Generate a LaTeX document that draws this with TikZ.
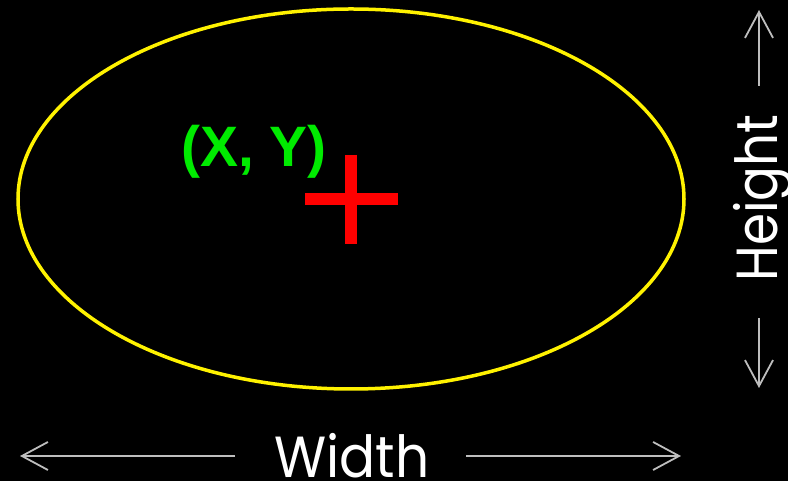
\documentclass[tikz,border=0pt]{standalone}
\usepackage{fontspec}
\setmainfont{Poppins}
\newfontfamily\boldfont{Liberation Sans}
\usetikzlibrary{arrows.meta}
\definecolor{dimgray}{RGB}{190,190,190}
\definecolor{brightgreen}{RGB}{0,235,0}
\begin{document}
\begin{tikzpicture}[x=1pt,y=1pt,
  dimarrow/.style={draw=dimgray,line width=1.8pt,-{Straight Barb[length=26pt,width=28pt,line width=1.8pt]}},
  dimlabel/.style={text=white,font=\fontsize{58}{58}\selectfont,inner sep=0pt}]
\useasboundingbox (0,0) rectangle (788,481);
\fill[black] (0,0) rectangle (788,481);
\draw[yellow,line width=3.5pt] (351,282) ellipse [x radius=333, y radius=190];
\draw[red,line width=12pt] (305,282) -- (398,282);
\draw[red,line width=12pt] (351,326) -- (351,237);
\node[anchor=base west,inner sep=0pt,text=brightgreen,font=\boldfont\bfseries\fontsize{57}{57}\selectfont] (xy) at (181,314) {(X, Y)};
\node[dimlabel,anchor=base,xscale=0.92] (w) at (352,3) {Width};
\coordinate (wl) at (20,25);
\coordinate (wr) at (681,25);
\draw[dimarrow] (235,25) -- (wl);
\draw[dimarrow] (466,25) -- (wr);
\node[dimlabel,anchor=base,rotate=90,xscale=0.89] (h) at (777,283) {Height};
\coordinate (ht) at (759,471);
\coordinate (hb) at (759,93);
\draw[dimarrow] (759,395) -- (ht);
\draw[dimarrow] (759,163) -- (hb);
\end{tikzpicture}
\end{document}
